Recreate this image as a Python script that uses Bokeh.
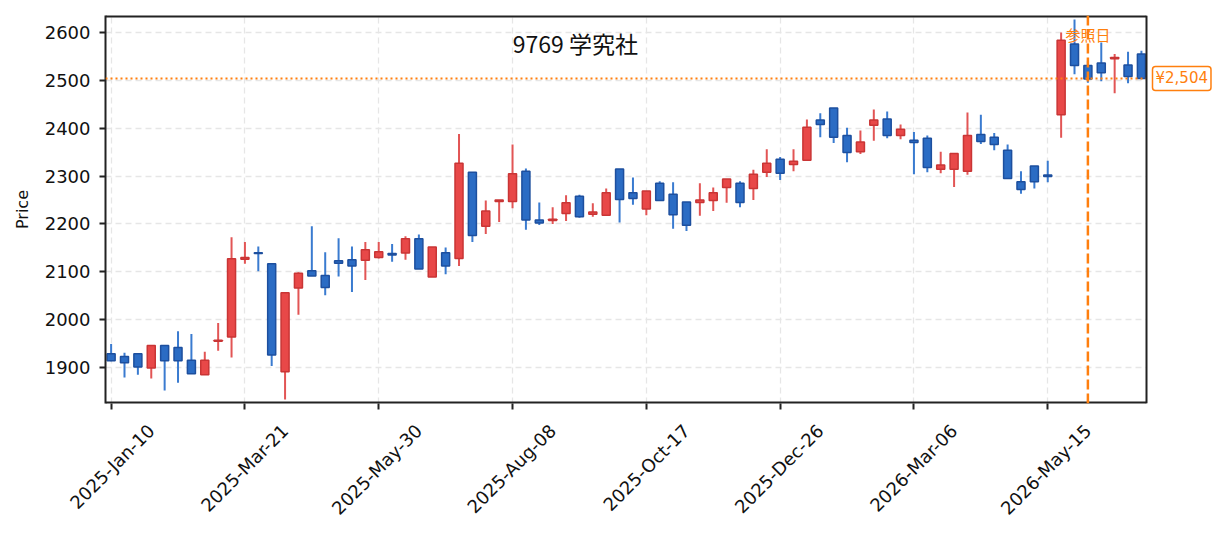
import math
from bokeh.plotting import figure
from bokeh.models import (ColumnDataSource, Span, Label, FixedTicker, Range1d,
                          LinearAxis, BoxAnnotation)
from bokeh.embed import file_html
from bokeh.resources import INLINE

opens  = [1929, 1923, 1929, 1899, 1946, 1942, 1915, 1885, 1955, 1964,
          2126, 2140, 2117, 1891, 2066, 2102, 2092, 2123, 2125, 2124,
          2130, 2138, 2139, 2169, 2089, 2140, 2128, 2308, 2195, 2247,
          2247, 2310, 2208, 2207, 2222, 2258, 2220, 2218, 2315, 2265,
          2231, 2285, 2262, 2246, 2245, 2249, 2276, 2285, 2274, 2308,
          2335, 2324, 2333, 2417, 2442, 2385, 2351, 2406, 2419, 2385,
          2375, 2379, 2314, 2314, 2310, 2387, 2381, 2354, 2288, 2321,
          2302, 2428, 2576, 2531, 2536, 2545, 2532, 2555]
highs  = [1949, 1931, 1929, 1946, 1946, 1976, 1970, 1933, 1993, 2172,
          2162, 2153, 2117, 2056, 2099, 2195, 2141, 2170, 2153, 2162,
          2162, 2158, 2174, 2178, 2152, 2151, 2388, 2308, 2249, 2250,
          2366, 2316, 2245, 2235, 2260, 2261, 2243, 2274, 2315, 2297,
          2269, 2289, 2287, 2246, 2285, 2276, 2294, 2289, 2313, 2356,
          2340, 2356, 2418, 2431, 2442, 2401, 2395, 2439, 2435, 2408,
          2392, 2385, 2351, 2347, 2433, 2428, 2390, 2366, 2310, 2321,
          2332, 2600, 2627, 2541, 2579, 2555, 2560, 2562]
lows   = [1913, 1879, 1885, 1877, 1852, 1868, 1887, 1885, 1935, 1921,
          2117, 2101, 1903, 1833, 2010, 2091, 2051, 2090, 2058, 2083,
          2128, 2121, 2125, 2106, 2089, 2095, 2112, 2162, 2179, 2204,
          2233, 2188, 2198, 2200, 2206, 2213, 2215, 2218, 2203, 2240,
          2218, 2249, 2190, 2185, 2217, 2227, 2244, 2235, 2250, 2298,
          2292, 2310, 2333, 2381, 2369, 2329, 2346, 2374, 2379, 2377,
          2304, 2308, 2306, 2277, 2303, 2367, 2354, 2295, 2263, 2274,
          2287, 2380, 2513, 2495, 2498, 2473, 2494, 2504]
closes = [1914, 1910, 1901, 1946, 1914, 1914, 1887, 1915, 1957, 2127,
          2130, 2138, 1926, 2056, 2097, 2091, 2067, 2118, 2112, 2146,
          2142, 2135, 2169, 2106, 2152, 2112, 2327, 2176, 2227, 2250,
          2305, 2208, 2202, 2210, 2244, 2215, 2225, 2265, 2251, 2253,
          2269, 2249, 2219, 2197, 2250, 2265, 2294, 2245, 2304, 2327,
          2306, 2331, 2402, 2408, 2381, 2349, 2371, 2417, 2385, 2398,
          2370, 2318, 2323, 2347, 2385, 2372, 2366, 2295, 2272, 2288,
          2299, 2584, 2531, 2503, 2516, 2548, 2508, 2504]

tick_positions = [0, 10, 20, 30, 40, 50, 60, 70]
tick_labels = ["2025-Jan-10", "2025-Mar-21", "2025-May-30", "2025-Aug-08",
               "2025-Oct-17", "2025-Dec-26", "2026-Mar-06", "2026-May-15"]
y_ticks = [1900, 2000, 2100, 2200, 2300, 2400, 2500, 2600]

title_text = "9769 学究社"
ref_index = 73
ref_label = "参照日"
last_price = closes[-1]
price_label = "¥{:,}".format(last_price)

FONT = "DejaVu Sans"
CJK = "Noto Sans CJK JP"
ORANGE = "#ff7f0e"
INK = "#222222"
RED_FILL, RED_EDGE, RED_WICK = "#e84848", "#c93535", "#e25555"
BLUE_FILL, BLUE_EDGE, BLUE_WICK = "#2b6cc4", "#1d4f9e", "#3a7bd0"

# visible frame limits (data) and an extension to the right for the price tag
X0, X1 = -0.42, 77.38
Y0, Y1 = 1824.8, 2635.5
PX_PER_UNIT = 1041.0 / (X1 - X0)
XE = X0 + 1109.0 / PX_PER_UNIT
LABEL_SHIFT = 3  # rotated labels: move anchor so label centre sits on tick

n = len(opens)
xs = list(range(n))
up = [c >= o for o, c in zip(opens, closes)]

def sub(mask):
    return ColumnDataSource(dict(
        x=[x for x, m in zip(xs, mask) if m],
        top=[max(o, c) for o, c, m in zip(opens, closes, mask) if m],
        bottom=[min(o, c) for o, c, m in zip(opens, closes, mask) if m],
        high=[h for h, m in zip(highs, mask) if m],
        low=[l for l, m in zip(lows, mask) if m],
    ))

src_up = sub(up)
src_dn = sub([not u for u in up])

p = figure(width=1216, height=529, output_backend="svg", toolbar_location=None,
           x_range=Range1d(X0, XE), y_range=Range1d(Y0, Y1),
           x_axis_location=None, y_axis_location=None,
           min_border_left=105, min_border_top=15, min_border_right=2,
           min_border_bottom=126)
p.outline_line_color = None

for src, fill, edge, wick in [(src_up, RED_FILL, RED_EDGE, RED_WICK),
                              (src_dn, BLUE_FILL, BLUE_EDGE, BLUE_WICK)]:
    p.segment(x0="x", x1="x", y0="low", y1="high", source=src,
              line_color=wick, line_width=2)
    p.vbar(x="x", top="top", bottom="bottom", width=0.6, source=src,
           fill_color=fill, line_color=edge, line_width=1.5)

# frame top / bottom edges (half clipped by the frame)
p.segment(x0=[X0, X0], x1=[X1, X1], y0=[Y0, Y1], y1=[Y0, Y1],
          line_color=INK, line_width=4)

p.add_layout(Span(location=last_price, dimension="width", line_color=ORANGE,
                  line_width=2, line_dash="2 3"))
p.add_layout(Span(location=ref_index, dimension="height", line_color=ORANGE,
                  line_width=2.5, line_dash="10 4"))

# blank out the area right of the visible frame
p.add_layout(BoxAnnotation(left=X1, fill_color="white", fill_alpha=1,
                           line_color=None))
p.add_layout(Span(location=X1, dimension="height", line_color=INK,
                  line_width=2))

p.add_layout(Label(x=ref_index, y=2596, text=ref_label, text_align="center",
                   text_baseline="middle", text_color=ORANGE,
                   text_font=CJK, text_font_size="15px"))
p.add_layout(Label(x=X1, x_offset=6, y=last_price, text=price_label,
                   text_align="left", text_baseline="middle", text_color=ORANGE,
                   text_font=FONT, text_font_size="15px",
                   border_line_color=ORANGE, border_line_width=1.5,
                   background_fill_color="white", padding=3, border_radius=3))
p.add_layout(Label(x=34.7, y=2579, text=title_text, text_align="center",
                   text_baseline="middle", text_color="#111111",
                   text_font=CJK, text_font_size="23px"))

# x axis: ticks only
xax = LinearAxis(ticker=FixedTicker(ticks=tick_positions))
xax.major_label_overrides = {t: "" for t in tick_positions}
xax.major_label_text_font_size = "1px"
xax.major_label_standoff = 0
xax.axis_line_color = None
xax.major_tick_line_color = INK
xax.major_tick_line_width = 2
xax.major_tick_out = 6
xax.major_tick_in = 0
xax.minor_tick_line_color = None
p.add_layout(xax, "below")

# x axis labels (rotated) on a second axis with shifted anchors
shifted = [t + LABEL_SHIFT for t in tick_positions]
xlab = LinearAxis(ticker=FixedTicker(ticks=shifted))
xlab.major_label_overrides = {s: l for s, l in zip(shifted, tick_labels)}
xlab.major_label_orientation = math.pi / 4
xlab.major_label_text_font = FONT
xlab.major_label_text_font_size = "18px"
xlab.major_label_text_color = "#111111"
xlab.major_label_standoff = 12
xlab.axis_line_color = None
xlab.major_tick_line_color = None
xlab.minor_tick_line_color = None
p.add_layout(xlab, "below")

yax = LinearAxis(ticker=FixedTicker(ticks=y_ticks))
yax.axis_label = "Price"
yax.axis_label_standoff = 10
yax.axis_label_text_font = FONT
yax.axis_label_text_font_size = "16px"
yax.axis_label_text_font_style = "normal"
yax.axis_label_text_color = "#111111"
yax.major_label_text_font = FONT
yax.major_label_text_font_size = "18px"
yax.major_label_text_color = "#111111"
yax.major_label_standoff = 9
yax.axis_line_color = INK
yax.axis_line_width = 2
yax.major_tick_line_color = INK
yax.major_tick_line_width = 2
yax.major_tick_out = 6
yax.major_tick_in = 0
yax.minor_tick_line_color = None
p.add_layout(yax, "left")

p.xgrid.ticker = FixedTicker(ticks=tick_positions)
p.ygrid.ticker = FixedTicker(ticks=y_ticks)
for g in (p.xgrid, p.ygrid):
    g.grid_line_color = "#e6e6e6"
    g.grid_line_width = 1.3
    g.grid_line_dash = "6 4"

p.background_fill_color = "white"
p.border_fill_color = "white"

open("out.html", "w").write(file_html(p, INLINE))
